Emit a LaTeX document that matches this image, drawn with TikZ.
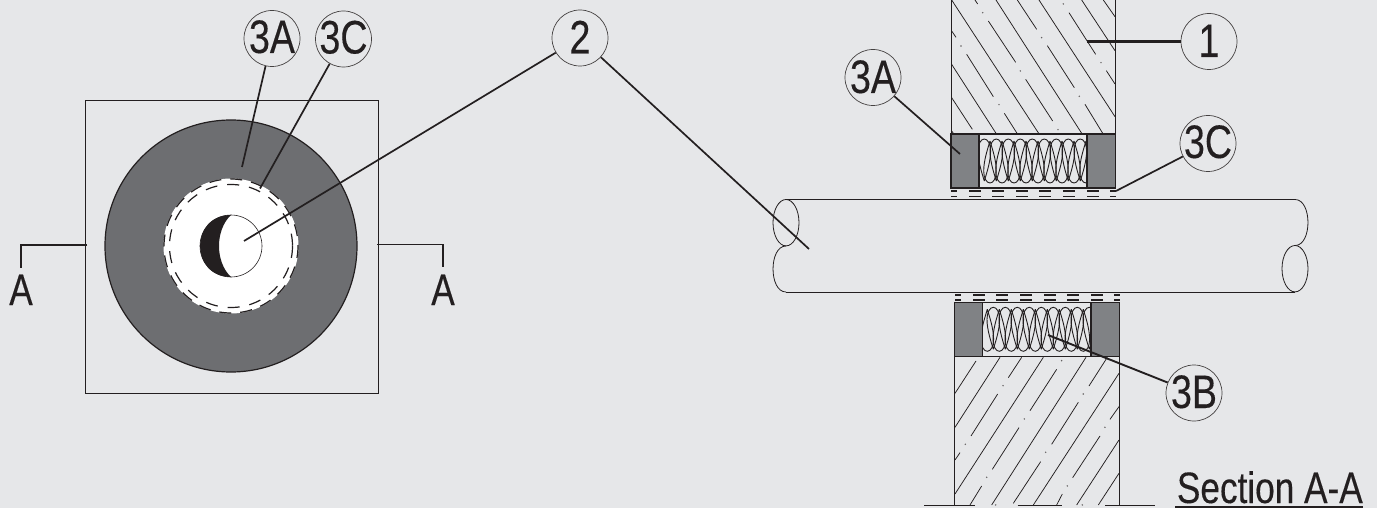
\documentclass[tikz,border=0pt]{standalone}
\usepackage{fontspec}
\setmainfont[FakeStretch=0.8,FakeBold=0.25]{Liberation Sans}
\definecolor{bgc}{HTML}{E6E7E9}
\definecolor{ringc}{HTML}{6D6E71}
\definecolor{blockc}{HTML}{808285}
\definecolor{inkc}{HTML}{231F20}
\tikzset{
  balloon/.style={circle,draw=inkc!85,line width=0.7pt,minimum size=56pt,inner sep=0pt},
  balloon text/.style={inner sep=0pt,font=\fontsize{47}{47}\selectfont,text=inkc},
  letter/.style={inner sep=0pt,font=\fontsize{44}{44}\selectfont,text=inkc},
  leader/.style={draw=inkc,line width=1.7pt,line cap=butt},
  thin outline/.style={draw=inkc,line width=0.8pt},
  sect/.style={draw=inkc,line width=1.7pt},
  hatch/.style={draw=inkc,line width=0.75pt},
  wool/.style={draw=inkc,line width=0.9pt},
  dashrow/.style={draw=inkc,line width=1.3pt},
  speck/.style={fill=inkc!70,draw=none}
}
\newcommand{\woolblock}[4]{%
  \begin{scope}[shift={(#1,#2)}]
    \clip (0,0) rectangle (108,54);
    \foreach \k in {0,...,8}{
      \pgfmathsetmacro{\xa}{#3+12*\k}
      \pgfmathsetmacro{\xb}{#4+12*\k}
      \draw[wool] (\xa,47) .. controls (\xa-2,40) and (\xa-6.3,28) .. (\xa-6.3,17) .. controls (\xa-6.3,10) and (\xa-3.5,5) .. (\xa,5) .. controls (\xa+3.5,5) and (\xa+6.3,10) .. (\xa+6.3,17) .. controls (\xa+6.3,28) and (\xa+2,40) .. (\xa,47);
      \draw[wool] (\xb,7) .. controls (\xb-2,14) and (\xb-6.3,26) .. (\xb-6.3,37) .. controls (\xb-6.3,44) and (\xb-3.5,49) .. (\xb,49) .. controls (\xb+3.5,49) and (\xb+6.3,44) .. (\xb+6.3,37) .. controls (\xb+6.3,26) and (\xb+2,14) .. (\xb,7);
    }
  \end{scope}}
\begin{document}
\begin{tikzpicture}[x=1pt,y=-1pt]
\useasboundingbox (0,0) rectangle (1377,508);
\fill[bgc] (0,0) rectangle (1377,508);

% ---- plan view
\draw[thin outline] (85.5,100) rectangle (378.5,393);
\fill[ringc] (231,246) circle (126);
\draw[inkc,line width=1.2pt] (231,246) circle (126);
\fill[white] (231,246) circle (67.5);
\draw[inkc,line width=1.2pt,dash pattern=on 12pt off 9pt] (231,246) circle (67);
\draw[inkc,line width=1.2pt,dash pattern=on 12pt off 10pt] (231,246) circle (61.5);
\draw[inkc,line width=0.6pt] (231,246) circle (31);
\fill[inkc] (231,215) .. controls (189.7,215) and (189.7,277) .. (231,277) .. controls (215,262) and (215,230) .. (231,215) -- cycle;

% ---- section: upper wall
\begin{scope}
  \clip (951,0) rectangle (1115.3,134);
  \begin{scope}[shift={(945,0)},x=0.3333pt,y=-0.3333pt]
    \foreach \a/\b/\c/\d in {
      20/0/283/403,
      18/90/33/112, 65/163/145/290, 178/340/218/403,
      18/190/155/403,
      18/290/82/388,
      18/390/27/403,
      90/0/98/12, 130/63/212/187, 242/238/323/363,
      153/0/412/403,
      217/0/275/88, 307/137/388/263, 420/313/475/403,
      282/0/510/350,
      372/38/452/163, 484/212/510/252,
      410/0/510/152,
      475/0/510/50}
      \draw[hatch] (\a,\b) -- (\c,\d);
    \foreach \a/\b in {113/38,355/12,290/113,48/138,468/188,226/213,403/289,162/314,339/389}
      \fill[speck] (\a,\b) circle (2.5);
  \end{scope}
\end{scope}
\draw[inkc,line width=0.9pt] (951,0) -- (951,134) (1115.3,0) -- (1115.3,134);

\fill[blockc] (951,134) rectangle (979,188);
\fill[blockc] (1087,134) rectangle (1115.3,188);
\woolblock{979}{134}{5.3}{11}
\draw[inkc,line width=1.2pt] (951,134) rectangle (1115.3,188);
\draw[inkc,line width=1.2pt] (979,134) -- (979,188) (1087,134) -- (1087,188);

% ---- section: dash rows
\foreach \a/\b in {951/957,969/981,992/1004,1016/1028,1039/1051,1063/1075,1087/1099,1110/1116}
  \draw[dashrow] (\a,191) -- (\b,191) (\a,196.5) -- (\b,196.5);
\foreach \a/\b in {955/961,973/985,996/1008,1020/1032,1044/1056,1067/1079,1091/1103,1114/1120}
  \draw[dashrow] (\a,295) -- (\b,295) (\a,300) -- (\b,300);

% ---- pipe
\draw[inkc,line width=0.9pt] (786,199.5) -- (1295,199.5);
\draw[inkc,line width=1pt] (786,292) -- (1295,292);
\draw[inkc,line width=0.8pt] (786,222.7) ellipse [x radius=13,y radius=23.2];
\draw[inkc,line width=0.8pt] (786,246) .. controls (768.7,246) and (768.7,292) .. (786,292);
\draw[inkc,line width=0.8pt] (1295,268.7) ellipse [x radius=13,y radius=23.2];
\draw[inkc,line width=0.8pt] (1295,245.5) .. controls (1312.3,245.5) and (1312.3,199.5) .. (1295,199.5);

% ---- section: lower wall
\fill[blockc] (954.3,302.3) rectangle (982.5,356.3);
\fill[blockc] (1091,302.3) rectangle (1119.3,356.3);
\woolblock{983}{302.3}{10.3}{4.3}
\draw[inkc,line width=1.2pt] (954.3,302.3) rectangle (1119.3,356.3);
\draw[inkc,line width=1.2pt] (982.5,302.3) -- (982.5,356.3) (1091,302.3) -- (1091,356.3);
\begin{scope}
  \clip (954.3,356.3) rectangle (1119.3,505);
  \begin{scope}[shift={(945,350)},x=0.3333pt,y=-0.3333pt]
    \foreach \a/\b/\c/\d in {
      30/130/93/33,
      30/232/165/22,
      190/83/230/22, 78/258/158/132, 30/330/45/308,
      30/432/295/22,
      255/182/335/58, 142/358/222/233, 75/465/110/408,
      140/465/423/22,
      432/108/487/22, 320/283/400/157, 205/460/287/335,
      265/465/522/70,
      495/208/522/170, 383/383/465/258, 335/465/352/432,
      395/465/522/270,
      460/465/522/370}
      \draw[hatch] (\a,\b) -- (\c,\d);
    \foreach \a/\b in {350/32,174/107,415/132,238/207,61/283,480/232,302/307,125/382,367/408,152/465,412/465}
      \fill[speck] (\a,\b) circle (2.5);
  \end{scope}
\end{scope}
\draw[inkc,line width=0.9pt] (954.3,356.3) -- (954.3,505) (1119.3,356.3) -- (1119.3,505);
\draw[inkc,line width=1pt] (924,505) -- (975,505) (1017.5,505) -- (1061.5,505) (1105,505) -- (1155,505);

% ---- balloons
\node[balloon] (pa) at (272,38.5) {};
\node[balloon] (pc) at (343.5,39) {};
\node[balloon] (two) at (580,38) {};
\node[balloon] (one) at (1209,41.5) {};
\node[balloon] (sa) at (873,77.5) {};
\node[balloon] (sc) at (1208,143.5) {};
\node[balloon] (sb) at (1194,393) {};
\node[balloon text,anchor=base] (tpa) at (272,53) {3A};
\node[balloon text,anchor=base] (tpc) at (343.5,53.5) {3C};
\node[balloon text,anchor=base] (ttwo) at (580,53.5) {2};
\node[balloon text,anchor=base] (tone) at (1209,57) {1};
\node[balloon text,anchor=base] (tsa) at (873,93) {3A};
\node[balloon text,anchor=base] (tsc) at (1208,158) {3C};
\node[balloon text,anchor=base] (tsb) at (1194,408) {3B};

% ---- leader ends
\coordinate (epa) at (242,167);
\coordinate (epc) at (260,188.5);
\coordinate (eptwo) at (244,241);
\coordinate (estwo) at (809,249);
\coordinate (eone) at (1087,41.5);
\coordinate (esa) at (960,154);
\coordinate (esc) at (1116,191);
\coordinate (esb) at (1048,335);

\draw[leader] (pa) -- (epa);
\draw[leader] (pc) -- (epc);
\draw[leader] (two) -- (eptwo);
\draw[leader] (two) -- (estwo);
\draw[leader,line width=2.4pt] (one) -- (eone);
\draw[leader] (sa) -- (esa);
\draw[leader] (sc) -- (esc);
\draw[leader,line width=1.9pt] (sb) -- (esb);

% ---- section marks
\coordinate (ml) at (87,245);
\coordinate (mr) at (377,244.5);
\node[letter,anchor=base] (al) at (21,305) {A};
\node[letter,anchor=base] (ar) at (443,305) {A};
\draw[sect] (ml) -- (ml -| al) -- (al.north |- 0,268);
\draw[sect] (mr) -- (mr -| ar) -- (ar.north |- 0,267);

% ---- title
\node[letter,anchor=base east] (title) at (1363,503) {Section A-A};
\draw[inkc,line width=1.4pt] (1175,507) -- (1363,507);
\end{tikzpicture}
\end{document}
